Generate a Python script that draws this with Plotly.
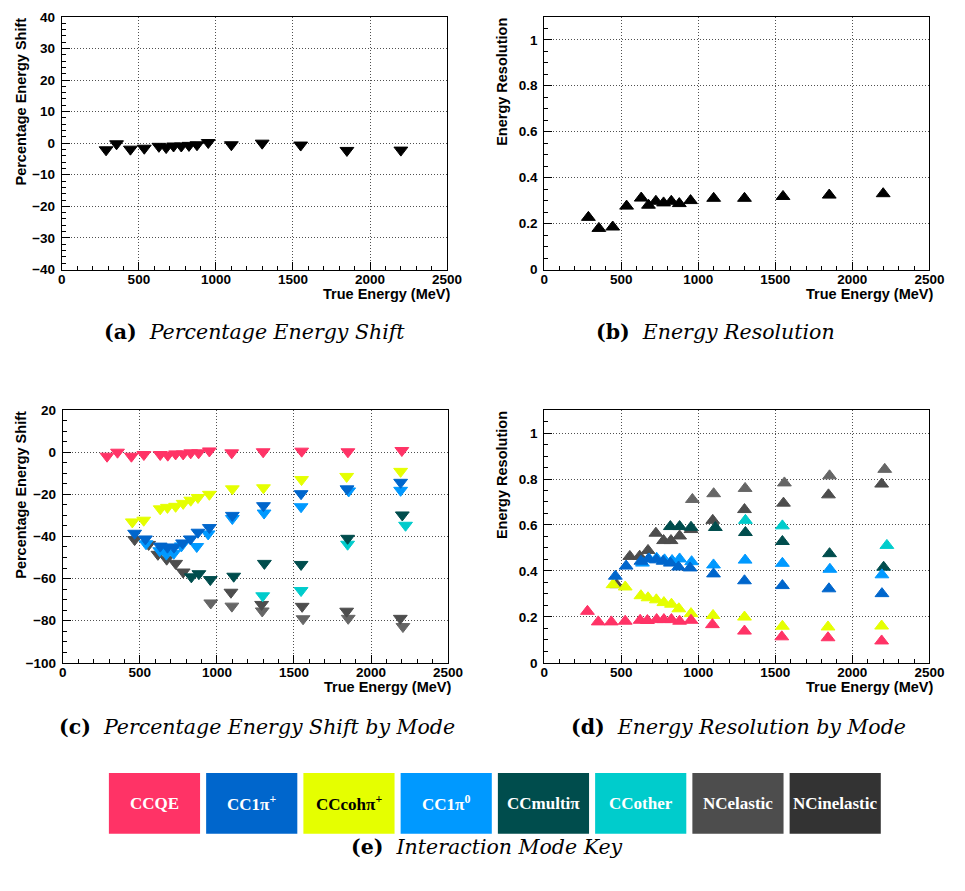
import plotly.graph_objects as go

W, H = 965, 891

# ---- energy bins (MeV) and overall performance -------------------------------
energy = [287, 355, 445, 535, 630, 677, 725, 775, 825, 877, 950, 1100, 1300, 1550, 1850, 2200]
shift_all = [-2.1, -0.2, -1.9, -1.6, -1.0, -1.4, -0.9, -0.9, -0.7, -0.5, 0.2, -0.5, 0.0, -0.6, -2.3, -2.2]
resolution_all = [0.227, 0.179, 0.185, 0.276, 0.311, 0.280, 0.297, 0.290, 0.297, 0.287, 0.300,
                  0.310, 0.310, 0.318, 0.324, 0.330]

# ---- interaction modes ---------------------------------------------------------
modes = ["CCQE", "CC1π<sup>+</sup>", "CCcohπ<sup>+</sup>", "CC1π<sup>0</sup>",
         "CCmultiπ", "CCother", "NCelastic", "NCinelastic"]
key_colours = ["#FF3366", "#0066CC", "#E5FF00", "#0099FF", "#004D4D", "#00CCCC", "#4D4D4D", "#333333"]
marker_colours = ["#FF3366", "#0066CC", "#E5FF00", "#0099FF", "#004D4D", "#00CCCC", "#4D4D4D", "#666666"]
key_text_colours = ["white", "white", "black", "white", "white", "white", "white", "white"]

# percentage energy shift by mode
shift_ccqe_e = [287, 355, 445, 526, 632, 681, 732, 781, 830, 881, 951, 1096, 1300, 1550, 1850, 2200]
shift_ccqe = [-1.9, 0.0, -1.9, -1.1, -1.1, -1.4, -0.8, -0.8, -0.3, -0.3, 0.6, -0.3, 0.2, 0.5, 0.2, 0.8]
shift_cc1pip_e = [466, 536, 632, 679, 721, 777, 828, 877, 951, 1100, 1302, 1546, 1844, 2192]
shift_cc1pip = [-38.5, -41.2, -44.6, -45.1, -45.1, -43.1, -41.2, -38.0, -35.8, -30.0, -25.4, -19.7, -17.4, -14.3]
shift_coh_e = [451, 525, 632, 679, 732, 781, 830, 877, 951, 1100, 1302, 1549, 1842, 2192]
shift_coh = [-33.1, -32.3, -26.9, -26.2, -25.7, -24.3, -22.8, -21.5, -20.0, -17.4, -16.9, -13.0, -11.5, -9.1]
shift_cc1pi0_e = [540, 629, 672, 720, 769, 869, 943, 1100, 1306, 1546, 1855, 2192]
shift_cc1pi0 = [-43.5, -46.8, -48.4, -48.0, -44.5, -44.8, -38.8, -31.5, -28.9, -25.9, -18.4, -18.1]
shift_multi_e = [834, 883, 957, 1109, 1308, 1546, 1848, 2203]
shift_multi = [-59.2, -57.7, -60.5, -58.9, -52.8, -53.3, -40.9, -29.8]
shift_other_e = [1297, 1546, 1848, 2224]
shift_other = [-68.2, -65.7, -43.7, -34.7]
shift_ncel_e = [466, 557, 617, 674, 732, 781, 1091, 1290, 1553, 1842, 2190]
shift_ncel = [-41.5, -43.8, -48.5, -50.8, -52.8, -56.9, -66.5, -72.3, -73.2, -75.5, -78.9]
shift_ncinel_e = [960, 1097, 1294, 1559, 1852, 2207]
shift_ncinel = [-71.6, -73.1, -75.4, -79.1, -78.9, -82.8]

# energy resolution by mode
res_ccqe_e = [281, 351, 436, 526, 623, 670, 730, 777, 826, 879, 953, 1092, 1300, 1542, 1842, 2190]
res_ccqe = [0.224, 0.178, 0.178, 0.181, 0.185, 0.184, 0.188, 0.188, 0.188, 0.181, 0.185,
            0.166, 0.138, 0.113, 0.109, 0.095]
res_cc1pip_e = [462, 532, 628, 677, 728, 772, 819, 872, 947, 1099, 1300, 1546, 1848, 2192]
res_cc1pip = [0.377, 0.421, 0.442, 0.452, 0.448, 0.442, 0.434, 0.417, 0.413, 0.387, 0.357, 0.336, 0.322, 0.301]
res_coh_e = [447, 526, 628, 674, 728, 777, 826, 874, 953, 1096, 1300, 1546, 1842, 2190]
res_coh = [0.340, 0.330, 0.292, 0.283, 0.274, 0.262, 0.255, 0.235, 0.214, 0.206, 0.199, 0.159, 0.156, 0.160]
res_cc1pi0_e = [638, 681, 730, 781, 830, 879, 957, 1099, 1304, 1546, 1854, 2192]
res_cc1pi0 = [0.434, 0.452, 0.455, 0.448, 0.445, 0.452, 0.440, 0.426, 0.447, 0.433, 0.407, 0.383]
res_multi_e = [819, 879, 953, 1111, 1306, 1546, 1852, 2203]
res_multi = [0.593, 0.593, 0.590, 0.589, 0.567, 0.528, 0.475, 0.416]
res_other_e = [1306, 1546, 2224]
res_other = [0.620, 0.596, 0.511]
res_ncel_e = [470, 556, 620, 674, 725, 775, 823, 879, 953, 1094, 1300, 1553, 1845, 2190]
res_ncel = [0.340, 0.463, 0.464, 0.489, 0.564, 0.532, 0.532, 0.552, 0.580, 0.620, 0.667, 0.695, 0.731, 0.778]
res_ncinel_e = [962, 1100, 1304, 1559, 1852, 2210]
res_ncinel = [0.711, 0.736, 0.759, 0.783, 0.814, 0.842]

shift_by_mode = [(shift_ccqe_e, shift_ccqe), (shift_cc1pip_e, shift_cc1pip), (shift_coh_e, shift_coh),
                 (shift_cc1pi0_e, shift_cc1pi0), (shift_multi_e, shift_multi), (shift_other_e, shift_other),
                 (shift_ncel_e, shift_ncel), (shift_ncinel_e, shift_ncinel)]
res_by_mode = [(res_ccqe_e, res_ccqe), (res_cc1pip_e, res_cc1pip), (res_coh_e, res_coh),
               (res_cc1pi0_e, res_cc1pi0), (res_multi_e, res_multi), (res_other_e, res_other),
               (res_ncel_e, res_ncel), (res_ncinel_e, res_ncinel)]


def px(x):
    return x / W


def py(y):
    return 1 - y / H


def tri(symbol, colour):
    # filled triangle with a thin outline of the same colour to give it more height
    return dict(symbol=symbol, size=12, color=colour, line=dict(width=1, color=colour))


fig = go.Figure()

# panel (a) and (b): all events
fig.add_trace(go.Scatter(x=energy, y=shift_all, mode="markers", xaxis="x", yaxis="y",
                         marker=tri("triangle-down", "black")))
fig.add_trace(go.Scatter(x=energy, y=resolution_all, mode="markers", xaxis="x2", yaxis="y2",
                         marker=tri("triangle-up", "black")))

# panel (c) and (d): split by interaction mode (CCQE drawn last, on top)
for i in reversed(range(len(modes))):
    ex, ey = shift_by_mode[i]
    fig.add_trace(go.Scatter(x=ex, y=ey, mode="markers", xaxis="x3", yaxis="y3", name=modes[i],
                             marker=tri("triangle-down", marker_colours[i])))
for i in reversed(range(len(modes))):
    ex, ey = res_by_mode[i]
    fig.add_trace(go.Scatter(x=ex, y=ey, mode="markers", xaxis="x4", yaxis="y4", name=modes[i],
                             marker=tri("triangle-up", marker_colours[i])))

tick_font = dict(family="Liberation Sans", size=13.5, color="black", weight="bold")
grid = dict(showgrid=True, gridcolor="#505050", griddash="1px,2px", gridwidth=1)


def xaxis(anchor, left, right):
    return dict(domain=[px(left), px(right)], anchor=anchor, range=[0, 2500], dtick=500, tick0=0,
                showline=True, linecolor="black", linewidth=1, mirror=True,
                ticks="inside", ticklen=8, tickcolor="black", tickfont=tick_font,
                ticklabelstandoff=-3,
                minor=dict(dtick=100, ticks="inside", ticklen=4, tickcolor="black", showgrid=False),
                zeroline=False, **grid)


def yaxis(anchor, top, bottom, rng, dtick, minor):
    return dict(domain=[py(bottom), py(top)], anchor=anchor, range=rng, dtick=dtick, tick0=0,
                showline=True, linecolor="black", linewidth=1, mirror=True,
                ticks="inside", ticklen=8, tickcolor="black", tickfont=tick_font,
                ticklabelstandoff=3,
                minor=dict(dtick=minor, ticks="inside", ticklen=4, tickcolor="black", showgrid=False),
                zeroline=False, **grid)


fig.update_layout(
    width=W, height=H, margin=dict(l=0, r=0, t=0, b=0),
    paper_bgcolor="white", plot_bgcolor="white", showlegend=False,
    xaxis=xaxis("y", 59, 452),
    yaxis=yaxis("x", 10, 267, [-40, 40], 10, 2),
    xaxis2=xaxis("y2", 551, 944),
    yaxis2=yaxis("x2", 10, 267, [0, 1.1], 0.2, 0.05),
    xaxis3=xaxis("y3", 60, 453),
    yaxis3=yaxis("x3", 410, 667, [-100, 20], 20, 5),
    xaxis4=xaxis("y4", 551, 944),
    yaxis4=yaxis("x4", 410, 667, [0, 1.1], 0.2, 0.05),
)

title_font = dict(family="Liberation Sans", size=14.5, color="black", weight="bold")
ann = []
# axis titles, aligned to the end of each axis
for xl, xr, top, bottom, ytitle in [(17, 457, 10, 267, "Percentage Energy Shift"),
                                    (508, 950, 10, 267, "Energy Resolution"),
                                    (17, 458, 410, 667, "Percentage Energy Shift"),
                                    (508, 950, 410, 667, "Energy Resolution")]:
    ann.append(dict(x=px(xl), y=py(top - 1), xref="paper", yref="paper", text=ytitle, textangle=-90,
                    xanchor="center", yanchor="top", showarrow=False, font=title_font))
    ann.append(dict(x=px(xr), y=py(bottom + 25), xref="paper", yref="paper", text="True Energy (MeV)",
                    xanchor="right", yanchor="middle", showarrow=False, font=title_font))

cap_font = dict(family="DejaVu Serif", size=20.5, color="black")
for cx, cy, tag, text in [(256, 331, "(a)", "Percentage Energy Shift"),
                          (726, 331, "(b)", "Energy Resolution"),
                          (258, 732, "(c)", "Percentage Energy Shift by Mode"),
                          (749, 732, "(d)", "Energy Resolution by Mode"),
                          (493, 854, "(e)", "Interaction Mode Key")]:
    ann.append(dict(x=px(cx), y=py(cy), xref="paper", yref="paper",
                    text=f"<b>{tag}</b>  <i>{text}</i>", xanchor="center", yanchor="middle",
                    showarrow=False, font=cap_font))

# interaction mode key
shapes = []
key_left, key_pitch, key_w, key_top, key_bot = 107, 99.2, 93, 779, 841
for i, name in enumerate(modes):
    x0 = key_left + i * key_pitch
    shapes.append(dict(type="rect", xref="paper", yref="paper", x0=px(x0), x1=px(x0 + key_w),
                       y0=py(key_bot), y1=py(key_top), fillcolor=key_colours[i], line_width=0))
    ann.append(dict(x=px(x0 + key_w / 2), y=py((key_top + key_bot) / 2), xref="paper", yref="paper",
                    text=f"<b>{name}</b>", xanchor="center", yanchor="middle", showarrow=False,
                    font=dict(family="Liberation Serif", size=17, color=key_text_colours[i])))

fig.update_layout(annotations=ann, shapes=shapes)
fig.write_html("out.html")
